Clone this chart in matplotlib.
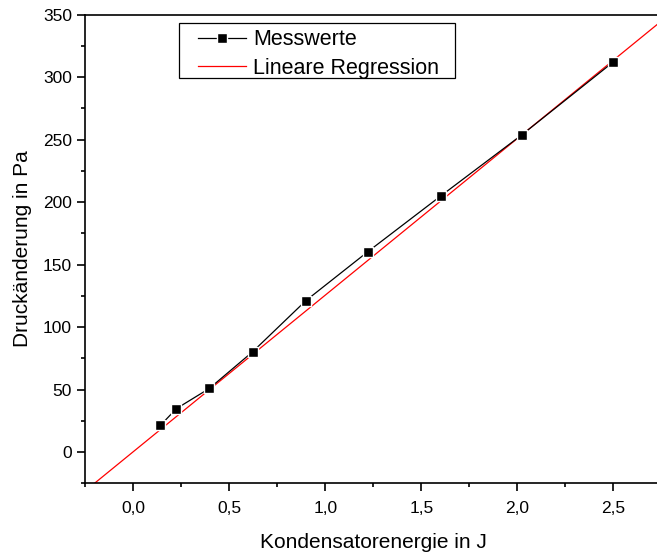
import numpy as np
import matplotlib
matplotlib.use('Agg')
import matplotlib.pyplot as plt
from matplotlib.patches import Rectangle
from matplotlib.ticker import MultipleLocator, FuncFormatter

plt.rcParams['font.family'] = ['Liberation Sans', 'DejaVu Sans']

energie = [0.141, 0.224, 0.396, 0.621, 0.899, 1.222, 1.601, 2.024, 2.500]
druck = [21.3, 34.7, 50.9, 80.2, 121.2, 160.4, 204.9, 253.9, 312.2]

# Regressionsgerade
steigung = 125.3
achsenabschnitt = 0.3

x_lim = (-0.25, 2.75)
y_lim = (-25, 350)

fig = plt.figure(figsize=(6.57, 5.54), dpi=100)
ax = fig.add_axes([0.1298, 0.1276, 1.0066 - 0.1298, 0.9735 - 0.1276])

xfit = np.array(x_lim)
ax.plot(xfit, achsenabschnitt + steigung * xfit, color='red', lw=0.9,
        label='Lineare Regression', zorder=2)
ax.plot(energie, druck, color='black', lw=0.9, marker='s', ms=7.5,
        mfc='black', mec='white', mew=1.0, label='Messwerte', zorder=3)

ax.set_xlim(*x_lim)
ax.set_ylim(*y_lim)
ax.xaxis.set_major_locator(MultipleLocator(0.5))
ax.xaxis.set_minor_locator(MultipleLocator(0.25))
ax.yaxis.set_major_locator(MultipleLocator(50))
ax.yaxis.set_minor_locator(MultipleLocator(25))
ax.xaxis.set_major_formatter(FuncFormatter(lambda v, p: ('%.1f' % v).replace('.', ',')))

for s in ax.spines.values():
    s.set_linewidth(1.2)
ax.tick_params(which='major', length=6, width=1.2, labelsize=12.5, direction='out')
ax.tick_params(axis='x', which='major', pad=7)
ax.tick_params(which='minor', length=3, width=1.2, direction='out')

ax.set_xlabel('Kondensatorenergie in J', fontsize=15, labelpad=12)
ax.set_ylabel('Druckänderung in Pa', fontsize=15, labelpad=8)

# Legende ohne eigenen Rahmen, Rahmen wie in Origin separat
h, l = ax.get_legend_handles_labels()
leg = ax.legend(h[::-1], l[::-1], loc='upper left', bbox_to_anchor=(0.1957, 0.969),
                borderaxespad=0, fontsize=15.5, frameon=False,
                handlelength=2.25, handletextpad=0.3,
                labelspacing=0.35, borderpad=0)
ax.add_patch(Rectangle((0.163, 0.864), 0.642 - 0.163, 0.982 - 0.864,
                       transform=ax.transAxes, fill=False, edgecolor='black',
                       lw=0.9, zorder=5))

fig.savefig('out.png', dpi=100)
